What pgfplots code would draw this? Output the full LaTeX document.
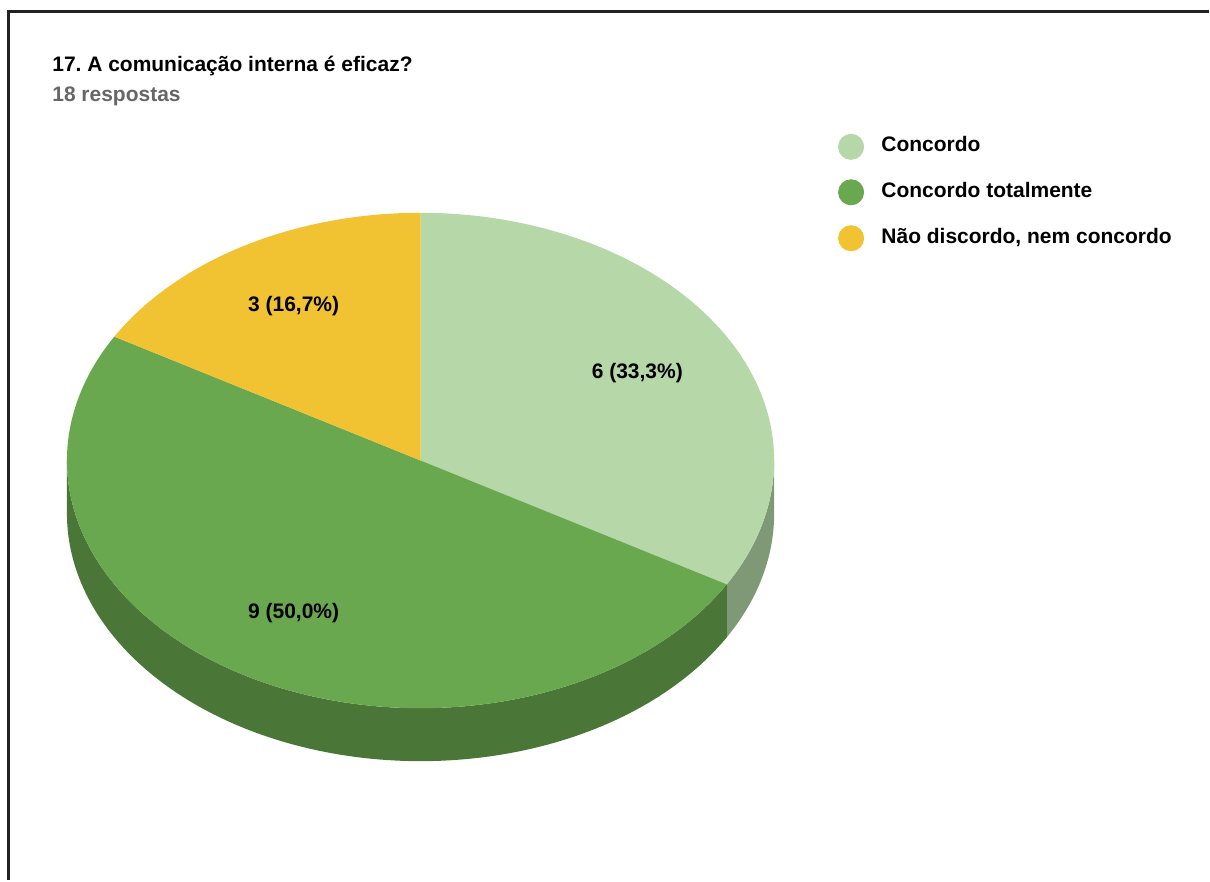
\documentclass[border=0pt]{standalone}
\usepackage{fontspec}
\setmainfont{Liberation Sans}
\usepackage{pgfplots}
\pgfplotsset{compat=1.18}
\usepgfplotslibrary{fillbetween}
\definecolor{cA}{HTML}{B6D7A8}
\definecolor{cAs}{HTML}{7F9876}
\definecolor{cB}{HTML}{6AA84F}
\definecolor{cBs}{HTML}{4A7637}
\definecolor{cC}{HTML}{F1C232}
\definecolor{sub}{HTML}{666666}
\definecolor{frame}{HTML}{222222}
% data: Concordo, Concordo totalmente, Nao discordo nem concordo
\def\vA{6}\def\vB{9}\def\vC{3}
\pgfmathsetmacro\tot{\vA+\vB+\vC}
\pgfmathsetmacro\aA{90-360*\vA/\tot}
\pgfmathsetmacro\aB{\aA-360*\vB/\tot}
\pgfmathsetmacro\aC{\aB-360*\vC/\tot}
\def\cx{421}\def\cy{461}\def\rx{354}\def\ry{248}\def\dpt{53}
\newcommand\txt{\fontsize{10.5}{12.6}\selectfont\bfseries}
\begin{document}
\frenchspacing
\begin{tikzpicture}
\begin{axis}[
  width=605pt, height=440.5pt, scale only axis,
  xmin=0, xmax=1210, ymin=0, ymax=881, y dir=reverse,
  hide axis, clip=false]
\path (axis cs:0,0) rectangle (axis cs:1210,881);
% sides
\addplot[name path=sAt, draw=none, domain=\aA:0, samples=40, variable=\t] ({\cx+\rx*cos(\t)},{\cy-\ry*sin(\t)});
\addplot[name path=sAb, draw=none, domain=\aA:0, samples=40, variable=\t] ({\cx+\rx*cos(\t)},{\cy+\dpt-\ry*sin(\t)});
\addplot[fill=cAs, draw=none, on layer=main] fill between[of=sAt and sAb];
\addplot[name path=sBt, draw=none, domain=-180:\aA, samples=120, variable=\t] ({\cx+\rx*cos(\t)},{\cy-\ry*sin(\t)});
\addplot[name path=sBb, draw=none, domain=-180:\aA, samples=120, variable=\t] ({\cx+\rx*cos(\t)},{\cy+\dpt-\ry*sin(\t)});
\addplot[fill=cBs, draw=none, on layer=main] fill between[of=sBt and sBb];
% top faces
\addplot[fill=cA, draw=none, domain=\aA:90, samples=80, variable=\t] ({\cx+\rx*cos(\t)},{\cy-\ry*sin(\t)}) -- (axis cs:\cx,\cy) -- cycle;
\addplot[fill=cB, draw=none, domain=\aB:\aA, samples=120, variable=\t] ({\cx+\rx*cos(\t)},{\cy-\ry*sin(\t)}) -- (axis cs:\cx,\cy) -- cycle;
\addplot[fill=cC, draw=none, domain=\aC:\aB, samples=50, variable=\t] ({\cx+\rx*cos(\t)},{\cy-\ry*sin(\t)}) -- (axis cs:\cx,\cy) -- cycle;
% slice labels
\node[font=\txt] at (axis cs:638,373) {6 (33,3\%)};
\node[font=\txt] at (axis cs:294,614) {9 (50,0\%)};
\node[font=\txt] at (axis cs:294,306) {3 (16,7\%)};
% legend
\addplot[only marks, mark=*, mark size=6.3pt, mark options={fill=cA, draw=cA}] coordinates {(852,147)};
\addplot[only marks, mark=*, mark size=6.3pt, mark options={fill=cB, draw=cB}] coordinates {(852,192.5)};
\addplot[only marks, mark=*, mark size=6.3pt, mark options={fill=cC, draw=cC}] coordinates {(852,238.5)};
\node[font=\txt, anchor=base west, inner sep=0pt] at (axis cs:882,151.5) {Concordo};
\node[font=\txt, anchor=base west, inner sep=0pt] at (axis cs:882,197.3) {Concordo totalmente};
\node[font=\txt, anchor=base west, inner sep=0pt] at (axis cs:882,243.3) {Não discordo, nem concordo};
% title
\node[font=\txt, anchor=base west, inner sep=0pt] at (axis cs:52,72) {17. A comunicação interna é eficaz?};
\node[font=\txt, text=sub, anchor=base west, inner sep=0pt] at (axis cs:52,102) {18 respostas};
% frame
\draw[frame, line width=1.3pt] (axis cs:8.5,881) -- (axis cs:8.5,11.5) -- (axis cs:1210,11.5);
\end{axis}
\end{tikzpicture}
\end{document}
